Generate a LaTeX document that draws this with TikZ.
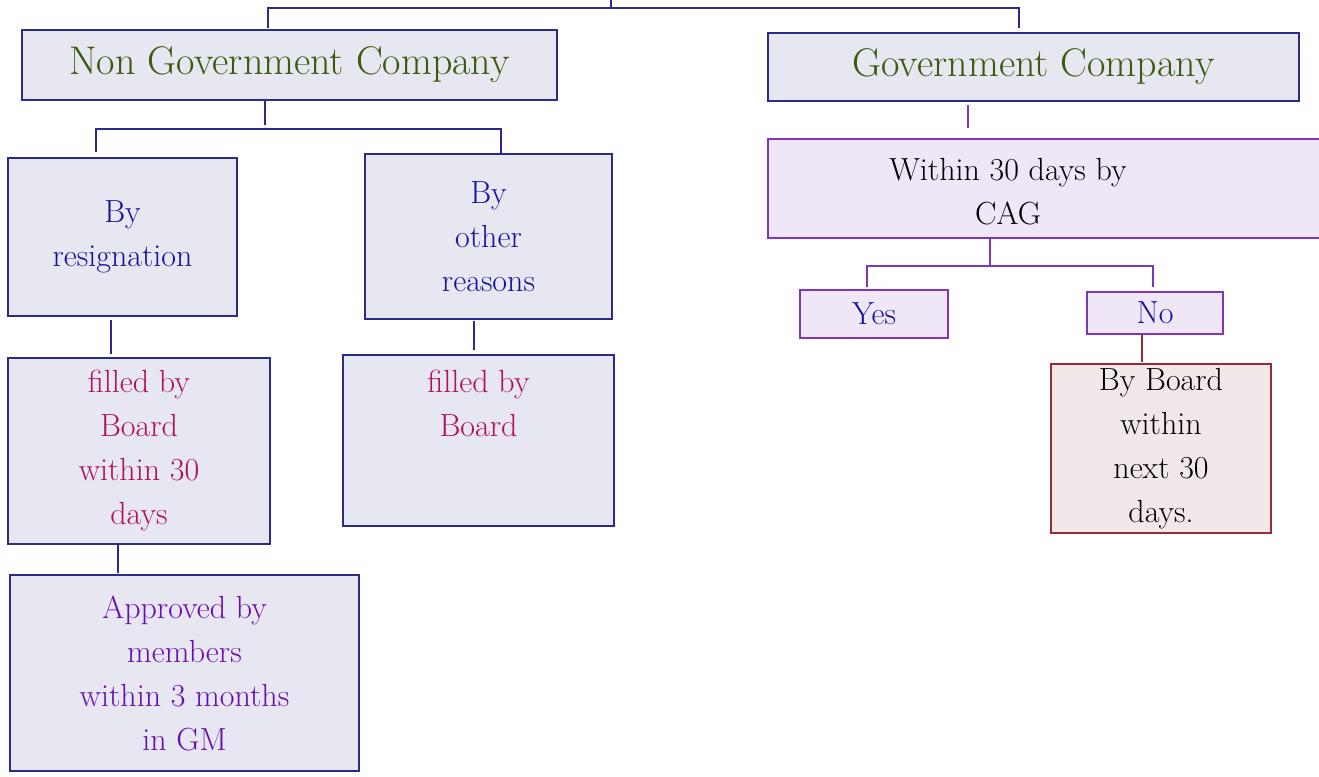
\documentclass[tikz,border=0pt]{standalone}
\usepackage{tikz}
\usetikzlibrary{positioning,calc}
\definecolor{navyline}{HTML}{2B2B8C}
\definecolor{lavfill}{HTML}{E7E7F2}
\definecolor{purpline}{HTML}{8035C0}
\definecolor{purpfill}{HTML}{EFE6F6}
\definecolor{redline}{HTML}{9A2B35}
\definecolor{redfill}{HTML}{F2E8EA}
\definecolor{olivetext}{HTML}{3B5A0E}
\definecolor{bluetext}{HTML}{14149A}
\definecolor{pinktext}{HTML}{B0105C}
\definecolor{violettext}{HTML}{6A0DB0}
\tikzset{font=\fontsize{32}{44}\selectfont}
\tikzset{box/.style={draw, line width=1.3pt, inner sep=0pt, outer sep=0pt, align=center},
  navybox/.style={box, draw=navyline, fill=lavfill},
  purpbox/.style={box, draw=purpline, fill=purpfill},
  redbox/.style={box, draw=redline, fill=redfill},
  titletext/.style={text=olivetext, font=\fontsize{40}{44}\selectfont},
  navyconn/.style={draw=navyline, line width=1.2pt},
  purpconn/.style={draw=purpline, line width=1.2pt},
  redconn/.style={draw=redline, line width=1.2pt}}
% box from corner (x1,y1) to corner (x2,y2), in pixels
\newcommand{\pbox}[6]{%
  \node[#1, minimum width={(#4-#2)*1pt}, minimum height={(#5-#3)*1pt}] (#6)
    at ({(#2+#4)/2},{(#3+#5)/2})}
\begin{document}
\begin{tikzpicture}[x=1pt,y=-1pt]
  \clip (0,0) rectangle (1319,776);
  % top level
  \pbox{navybox, titletext}{22}{30}{557}{100}{ngc} {Non Government Company};
  \pbox{navybox, titletext}{768}{33}{1299}{101}{gc} {Government Company};
  \coordinate (tl) at (268,8);
  \coordinate (tr) at (1019,8);
  \coordinate (tmid) at (611,8);
  \draw[navyconn] (tmid) -- ++(0,-10);
  \draw[navyconn] (tl |- ngc.north) ++(0,-2) -- (tl) -- (tr) -- ($(tr |- gc.north)+(0,-5)$);
  % non government side
  \pbox{navybox, text=bluetext}{8}{158}{237}{316}{res} {By\\resignation};
  \pbox{navybox, text=bluetext}{365}{154}{612}{319}{oth} {By\\other\\reasons};
  \coordinate (nmid) at (265,129);
  \coordinate (nl) at (96,129);
  \coordinate (nr) at (501,129);
  \draw[navyconn] (nmid |- ngc.south) -- ++(0,25);
  \draw[navyconn] ($(nl |- res.north)+(0,-6)$) -- (nl) -- (nr) -- ($(nr |- oth.north)+(0,-1)$);
  \pbox{navybox, text=pinktext}{8}{358}{270}{544}{fbr} {filled by\\Board\\within 30\\days};
  \pbox{navybox, text=pinktext}{343}{355}{614}{526}{fbo} {filled by\\Board\\[30pt]};
  \pbox{navybox, text=violettext}{10}{575}{359}{771}{appr} {Approved by\\members\\within 3 months\\in GM};
  \draw[navyconn] ($(res.south -| 111,0)+(0,4)$) -- ($(fbr.north -| 111,0)+(0,-4)$);
  \draw[navyconn] ($(oth.south -| 474,0)+(0,2)$) -- ($(fbo.north -| 474,0)+(0,-5)$);
  \draw[navyconn] (fbr.south -| 118,0) -- ($(appr.north -| 118,0)+(0,-2)$);
  % government side
  \pbox{purpbox}{768}{139}{1340}{238}{cag} {};
  \node[align=center] (caglbl) at (1008,192) {Within 30 days by\\CAG};
  \draw[purpconn] ($(gc.south -| 968,0)+(0,4)$) -- ($(cag.north -| 968,0)+(0,-11)$);
  \pbox{purpbox, text=bluetext}{800}{290}{948}{338}{yes} {Yes};
  \pbox{purpbox, text=bluetext}{1087}{292}{1223}{334}{no} {No};
  \coordinate (gmid) at (990,266);
  \coordinate (gl) at (867,266);
  \coordinate (gr) at (1153,266);
  \draw[purpconn] (gmid |- cag.south) -- (gmid);
  \draw[purpconn] ($(gl |- yes.north)+(0,-3)$) -- (gl) -- (gr) -- ($(gr |- no.north)+(0,-5)$);
  \pbox{redbox}{1051}{364}{1271}{533}{bbd} {By Board\\within\\next 30\\days.};
  \draw[redconn] (no.south -| 1142,0) -- ($(bbd.north -| 1142,0)+(0,-2)$);
\end{tikzpicture}
\end{document}
